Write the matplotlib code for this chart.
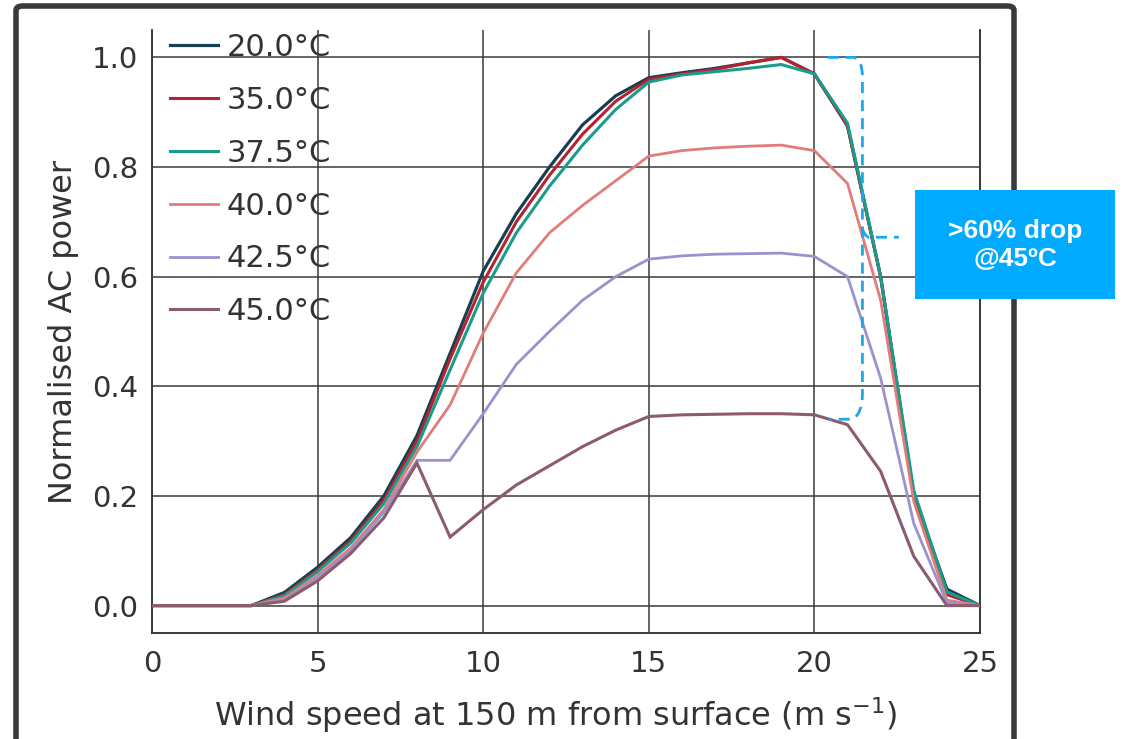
import matplotlib
matplotlib.use("Agg")
import matplotlib.pyplot as plt
from matplotlib.patches import FancyBboxPatch, Rectangle
from matplotlib.path import Path
from matplotlib.patches import PathPatch
import numpy as np

wind_speed = list(range(0, 26))
labels = ["20.0°C", "35.0°C", "37.5°C", "40.0°C", "42.5°C", "45.0°C"]
colors = ["#173f52", "#b8222f", "#1b9b8c", "#e07c7a", "#9a92cc", "#8c5b6d"]

p20 = [0, 0, 0, 0, 0.024, 0.07, 0.124, 0.20, 0.31, 0.46, 0.61, 0.715, 0.80, 0.877, 0.93,
       0.963, 0.972, 0.98, 0.99, 1.0, 0.97, 0.875, 0.60, 0.20, 0.03, 0.0]
p35 = [0, 0, 0, 0, 0.02, 0.065, 0.118, 0.192, 0.30, 0.45, 0.59, 0.70, 0.785, 0.86, 0.92,
       0.96, 0.97, 0.978, 0.99, 1.0, 0.97, 0.875, 0.60, 0.20, 0.02, 0.0]
p375 = [0, 0, 0, 0, 0.018, 0.062, 0.114, 0.186, 0.29, 0.43, 0.57, 0.68, 0.765, 0.84, 0.905,
        0.955, 0.968, 0.974, 0.98, 0.987, 0.97, 0.88, 0.60, 0.21, 0.025, 0.0]
p40 = [0, 0, 0, 0, 0.014, 0.055, 0.105, 0.175, 0.28, 0.366, 0.497, 0.607, 0.68, 0.73, 0.775,
       0.82, 0.83, 0.835, 0.838, 0.84, 0.83, 0.77, 0.557, 0.19, 0.01, 0.0]
p425 = [0, 0, 0, 0, 0.01, 0.05, 0.10, 0.17, 0.265, 0.265, 0.35, 0.44, 0.50, 0.557, 0.60,
        0.632, 0.638, 0.641, 0.642, 0.643, 0.637, 0.60, 0.415, 0.15, 0.005, 0.0]
p45 = [0, 0, 0, 0, 0.008, 0.045, 0.095, 0.16, 0.26, 0.125, 0.175, 0.22, 0.255, 0.29, 0.32,
       0.345, 0.348, 0.349, 0.35, 0.35, 0.348, 0.33, 0.245, 0.09, 0.0, 0.0]
series = [p20, p35, p375, p40, p425, p45]
widths = [2.3, 2.2, 2.2, 2.0, 2.0, 2.2]

x_ticks = [0, 5, 10, 15, 20, 25]
y_ticks = [0.0, 0.2, 0.4, 0.6, 0.8, 1.0]

W, H = 1126, 739
plt.rcParams['font.family'] = ['DejaVu Sans']
fig = plt.figure(figsize=(W / 100, H / 100), dpi=100)
ax = fig.add_axes([152 / W, 1 - 633 / H, (980 - 152) / W, (633 - 30) / H])

text_col = "#333333"
for s, lab, c, lw in zip(series, labels, colors, widths):
    ax.plot(wind_speed, s, color=c, lw=lw, label=lab, zorder=3, solid_joinstyle='miter')

ax.set_xlim(0, 25)
ax.set_ylim(-0.05, 1.05)
ax.set_xticks(x_ticks)
ax.set_yticks(y_ticks)
ax.set_yticklabels([f"{v:.1f}" for v in y_ticks])
ax.tick_params(length=0, labelsize=21, colors=text_col)
ax.tick_params(axis='x', pad=12)
ax.tick_params(axis='y', pad=10)
ax.set_axisbelow(False)
ax.grid(True, color="#3a3a3a", lw=1.1, zorder=2.5)
for side in ['left', 'bottom', 'right']:
    ax.spines[side].set_color("#2a2a2a")
    ax.spines[side].set_linewidth(1.3)
ax.spines['top'].set_visible(False)

ax.set_xlabel(r"Wind speed at 150 m from surface (m s$^{\mathregular{-1}}$)", fontsize=23,
              color=text_col)
ax.xaxis.set_label_coords(0.488, -0.103)
ax.set_ylabel("Normalised AC power", fontsize=23, color=text_col, labelpad=9)

leg = ax.legend(loc='upper left', bbox_to_anchor=(0.022, 0.995), frameon=False,
                fontsize=22, handlelength=1.55, handletextpad=0.3, labelspacing=0.78,
                borderaxespad=0, borderpad=0)
for t in leg.get_texts():
    t.set_color(text_col)
leg.set_zorder(1)

# dashed bracket annotation (data coordinates)
top = max(p35)
bot = max(p45)
xb = 21.45
r = 0.035
verts = [(20.4, top), (xb - 0.25, top), (xb, top - 0.005), (xb, top - r),
         (xb, bot + r), (xb, bot), (xb - 0.3, bot - 0.01), (20.45, bot - 0.01)]
codes = [Path.MOVETO, Path.LINETO, Path.CURVE3, Path.CURVE3,
         Path.LINETO, Path.CURVE3, Path.CURVE3, Path.LINETO]
bracket = PathPatch(Path(verts, codes), fill=False, edgecolor="#19a8f0", lw=2.0,
                    linestyle=(0, (4, 2.5)), zorder=4, clip_on=False)
ax.add_patch(bracket)
mid = (top + bot) / 2 - 0.008
nub = Path([(xb, mid + 0.02), (xb + 0.1, mid), (xb + 0.35, mid + 0.005), (22.55, mid + 0.005)],
           [Path.MOVETO, Path.CURVE3, Path.CURVE3, Path.LINETO])
ax.add_patch(PathPatch(nub, fill=False, edgecolor="#19a8f0", lw=2.0,
                       linestyle=(0, (4, 2.5)), zorder=4, clip_on=False))

# blue callout box
fig.patches.append(Rectangle((915 / W, 1 - 299 / H), 200 / W, 109 / H,
                             transform=fig.transFigure, facecolor="#00aaff",
                             edgecolor="none", zorder=5))
fig.text(1015 / W, 1 - 245 / H, ">60% drop\n@45ºC", ha='center', va='center',
         color='white', fontsize=19, fontweight='bold', family='Liberation Sans',
         linespacing=1.2, zorder=6)

# outer dark frame
fig.patches.append(FancyBboxPatch((16 / W, -0.1), (1014 - 16) / W, (1 - 6 / H) + 0.1,
                                  boxstyle="round,pad=0,rounding_size=0.006",
                                  transform=fig.transFigure, facecolor='none',
                                  edgecolor="#373b3e", lw=4, zorder=4))

fig.savefig("out.png", dpi=100)
